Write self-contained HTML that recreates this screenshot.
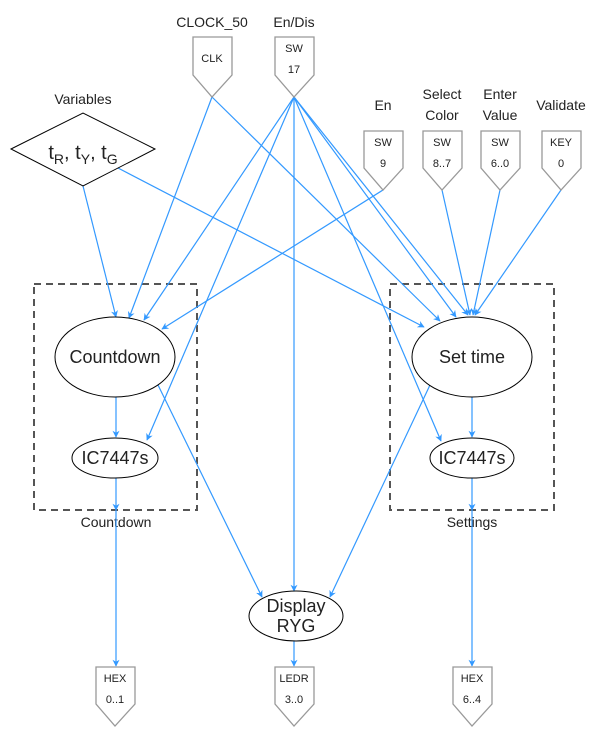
<!DOCTYPE html>
<html><head><meta charset="utf-8"><style>
html,body{margin:0;padding:0;background:#fff;}
svg{display:block;font-family:"Liberation Sans",Arial,sans-serif;}
</style></head><body>
<svg width="598" height="738" viewBox="0 0 598 738" xmlns="http://www.w3.org/2000/svg">
<defs>
<marker id="a" viewBox="0 0 10 10" refX="9" refY="5" markerWidth="7" markerHeight="7" orient="auto" markerUnits="userSpaceOnUse">
<path d="M0,0 L10,5 L0,10 L3,5 z" fill="#3399FF"/>
</marker>
</defs>
<!-- dashed boxes -->
<rect x="34" y="284" width="163" height="226" fill="none" stroke="#555" stroke-width="2" stroke-dasharray="7,5"/>
<rect x="390" y="284" width="164" height="226" fill="none" stroke="#555" stroke-width="2" stroke-dasharray="7,5"/>
<g fill="#222" font-size="14" text-anchor="middle">
<text x="116" y="527">Countdown</text>
<text x="472" y="527">Settings</text>
<text x="212" y="27">CLOCK_50</text>
<text x="294" y="27">En/Dis</text>
<text x="83" y="104">Variables</text>
<text x="383" y="110">En</text>
<text x="442" y="99">Select</text>
<text x="442" y="120">Color</text>
<text x="500" y="99">Enter</text>
<text x="500" y="120">Value</text>
<text x="561" y="110">Validate</text>
</g>
<!-- connectors -->
<g stroke="#3399FF" stroke-width="1.2" fill="none" marker-end="url(#a)">
<line x1="212" y1="97" x2="129" y2="318"/>
<line x1="212" y1="97" x2="440" y2="321"/>
<line x1="294" y1="97" x2="144" y2="320"/>
<line x1="294" y1="97" x2="147" y2="440"/>
<line x1="294" y1="97" x2="294" y2="591"/>
<line x1="294" y1="97" x2="441" y2="441"/>
<line x1="294" y1="97" x2="456" y2="317"/>
<line x1="294" y1="97" x2="468" y2="315"/>
<line x1="83" y1="186" x2="116" y2="317"/>
<line x1="118" y1="168" x2="424" y2="327"/>
<line x1="383" y1="190" x2="162" y2="329"/>
<line x1="442" y1="190" x2="470" y2="315"/>
<line x1="500" y1="190" x2="473" y2="315"/>
<line x1="561" y1="190" x2="475" y2="315"/>
<line x1="116" y1="397" x2="116" y2="437"/>
<line x1="116" y1="478" x2="116" y2="510"/>
<line x1="116" y1="510" x2="116" y2="666"/>
<line x1="158" y1="385" x2="262" y2="597"/>
<line x1="430" y1="385" x2="330" y2="597"/>
<line x1="472" y1="397" x2="472" y2="437"/>
<line x1="472" y1="478" x2="472" y2="510"/>
<line x1="472" y1="510" x2="472" y2="666"/>
<line x1="294" y1="641" x2="294" y2="666"/>
</g>
<!-- diamond -->
<polygon points="11,149 83,113 155,149 83,186" fill="#fff" stroke="#000" stroke-width="1"/>
<text x="83" y="159" font-size="20" text-anchor="middle" fill="#222">t<tspan font-size="14" dy="5">R</tspan><tspan dy="-5">, t</tspan><tspan font-size="14" dy="5">Y</tspan><tspan dy="-5">, t</tspan><tspan font-size="14" dy="5">G</tspan></text>
<!-- ellipses -->
<g fill="#fff" stroke="#000" stroke-width="1">
<ellipse cx="115" cy="357" rx="60" ry="40"/>
<ellipse cx="115" cy="458" rx="43" ry="20"/>
<ellipse cx="472" cy="357" rx="60" ry="40"/>
<ellipse cx="472" cy="458" rx="42" ry="20"/>
<ellipse cx="296" cy="616" rx="47" ry="25"/>
</g>
<g fill="#222" font-size="18" text-anchor="middle">
<text x="115" y="363">Countdown</text>
<text x="115" y="464">IC7447s</text>
<text x="472" y="363">Set time</text>
<text x="472" y="464">IC7447s</text>
<text x="296" y="612">Display</text>
<text x="296" y="632">RYG</text>
</g>
<!-- pentagons -->
<g fill="#fff" stroke="#999" stroke-width="1.3">
<polygon points="193,37 232,37 232,75 212,97 193,75"/>
<polygon points="275,37 314,37 314,75 294,97 275,75"/>
<polygon points="364,131 403,131 403,168 383,190 364,168"/>
<polygon points="423,131 462,131 462,168 442,190 423,168"/>
<polygon points="481,131 520,131 520,168 500,190 481,168"/>
<polygon points="542,131 581,131 581,168 561,190 542,168"/>
<polygon points="96,667 135,667 135,704 115,726 96,704"/>
<polygon points="275,667 314,667 314,704 294,726 275,704"/>
<polygon points="453,667 492,667 492,704 472,726 453,704"/>
</g>
<g fill="#222" font-size="11" text-anchor="middle">
<text x="212" y="62">CLK</text>
<text x="294" y="52">SW</text><text x="294" y="73">17</text>
<text x="383" y="146">SW</text><text x="383" y="167">9</text>
<text x="442" y="146">SW</text><text x="442" y="167">8..7</text>
<text x="500" y="146">SW</text><text x="500" y="167">6..0</text>
<text x="561" y="146">KEY</text><text x="561" y="167">0</text>
<text x="115" y="682">HEX</text><text x="115" y="703">0..1</text>
<text x="294" y="682">LEDR</text><text x="294" y="703">3..0</text>
<text x="472" y="682">HEX</text><text x="472" y="703">6..4</text>
</g>
</svg>
</body></html>
